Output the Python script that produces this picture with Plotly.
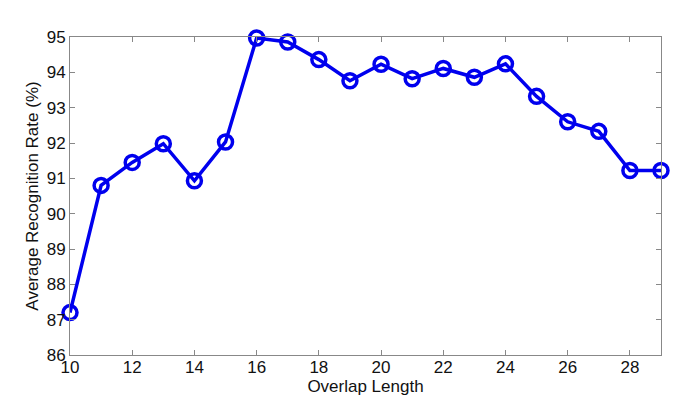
import plotly.graph_objects as go

overlap_length = [10, 11, 12, 13, 14, 15, 16, 17, 18, 19, 20, 21, 22, 23, 24, 25, 26, 27, 28, 29]
recognition_rate = [87.2, 90.8, 91.45, 91.98, 90.93, 92.03, 94.97, 94.86, 94.36, 93.76, 94.23,
                    93.82, 94.11, 93.86, 94.24, 93.32, 92.6, 92.33, 91.22, 91.22]
x_ticks = [10, 12, 14, 16, 18, 20, 22, 24, 26, 28]
y_ticks = [86, 87, 88, 89, 90, 91, 92, 93, 94, 95]

fig = go.Figure()
fig.add_trace(go.Scatter(
    x=overlap_length, y=recognition_rate, mode="lines+markers",
    line=dict(color="#0000EE", width=3.5),
    marker=dict(symbol="circle-open", size=14, color="#0000EE", line=dict(width=3.5, color="#0000EE")),
    cliponaxis=False, showlegend=False,
))

axis_common = dict(
    showline=True, linecolor="#888888", linewidth=1, mirror="ticks",
    ticks="inside", ticklen=5, tickcolor="#888888", showgrid=False, zeroline=False,
    tickfont=dict(family="Liberation Sans, Arial", size=17, color="#111111"),
)
fig.update_layout(
    width=685, height=418,
    margin=dict(l=62, r=32, t=29, b=71, autoexpand=False),
    paper_bgcolor="white", plot_bgcolor="white",
    font=dict(family="Liberation Sans, Arial", size=17, color="#111111"),
    xaxis=dict(range=[10, 29], tickvals=x_ticks, ticklabelstandoff=-3,
               title=dict(text="Overlap Length", standoff=2, font=dict(size=17)), **axis_common),
    yaxis=dict(range=[86, 95], tickvals=y_ticks, ticklabelstandoff=0,
               title=dict(text="Average Recognition Rate (%)", standoff=3, font=dict(size=17)), **axis_common),
)
fig.write_html("out.html")
